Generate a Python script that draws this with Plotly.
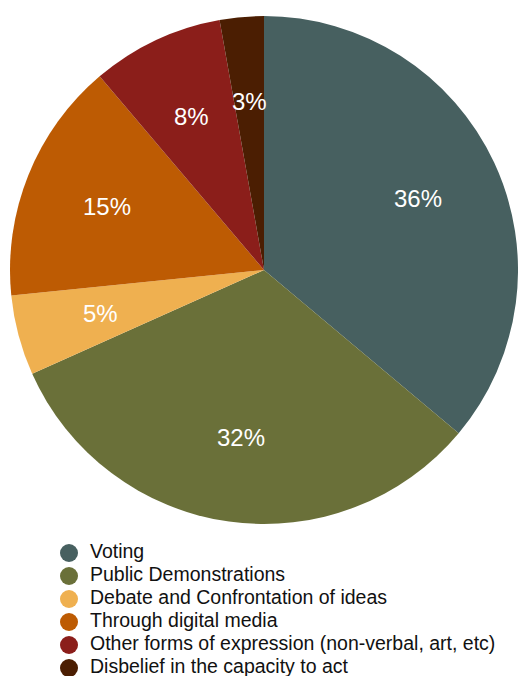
import math
import plotly.graph_objects as go

labels = ["Voting", "Public Demonstrations", "Debate and Confrontation of ideas",
          "Through digital media", "Other forms of expression (non-verbal, art, etc)",
          "Disbelief in the capacity to act"]
values = [36.1, 32.2, 5.1, 15.4, 8.4, 2.8]
colors = ["#476060", "#6a7039", "#efb050", "#bd5b03", "#8b1e1a", "#4b1e02"]

W, H = 518, 676
FONT = "Liberation Sans, Helvetica, Arial"

# pie geometry (pixels)
dom_x = [10 / W, 1.0]
dom_y = [1 - 525 / H, 1 - 15 / H]
cx = (dom_x[0] + dom_x[1]) / 2 * W
cy = (1 - (dom_y[0] + dom_y[1]) / 2) * H
R = min((dom_x[1] - dom_x[0]) * W, (dom_y[1] - dom_y[0]) * H) / 2

fig = go.Figure()
fig.add_trace(go.Pie(
    labels=labels, values=values, sort=False, direction="clockwise", rotation=0,
    marker=dict(colors=colors, line=dict(width=0)),
    textinfo="none", showlegend=False, hoverinfo="label+percent",
    domain=dict(x=dom_x, y=dom_y),
))

# percentage labels at 2/3 radius along each slice's bisector
total = sum(values)
cum = 0.0
annotations = []
for v in values:
    mid = (cum + v / 2) / total * 2 * math.pi
    cum += v
    px = cx + math.sin(mid) * R * 0.667
    py = cy - math.cos(mid) * R * 0.667
    annotations.append(dict(x=px / W, y=1 - py / H, xref="paper", yref="paper",
                            text=f"{round(v / total * 100)}%", showarrow=False,
                            xanchor="center", yanchor="middle",
                            font=dict(color="white", size=24, family=FONT)))

# legend (circles + labels)
idx = list(range(len(labels)))
fig.add_trace(go.Scatter(x=[0] * len(labels), y=idx, mode="markers",
                         marker=dict(color=colors, size=18, symbol="circle"),
                         showlegend=False, hoverinfo="skip", cliponaxis=False))
fig.add_trace(go.Scatter(x=[1] * len(labels), y=idx, mode="text", text=labels,
                         textposition="middle right",
                         textfont=dict(size=19.5, color="#111111", family=FONT),
                         showlegend=False, hoverinfo="skip", cliponaxis=False))

fig.update_layout(
    width=W, height=H, margin=dict(l=0, r=0, t=0, b=0, autoexpand=False),
    paper_bgcolor="white", plot_bgcolor="rgba(0,0,0,0)",
    xaxis=dict(visible=False, domain=[69 / W, 90 / W], range=[0, 1], fixedrange=True),
    yaxis=dict(visible=False, domain=[1 - 668 / H, 1 - 553 / H], range=[5, 0], fixedrange=True),
    annotations=annotations, showlegend=False,
    font=dict(family=FONT),
)
fig.write_html("out.html")
